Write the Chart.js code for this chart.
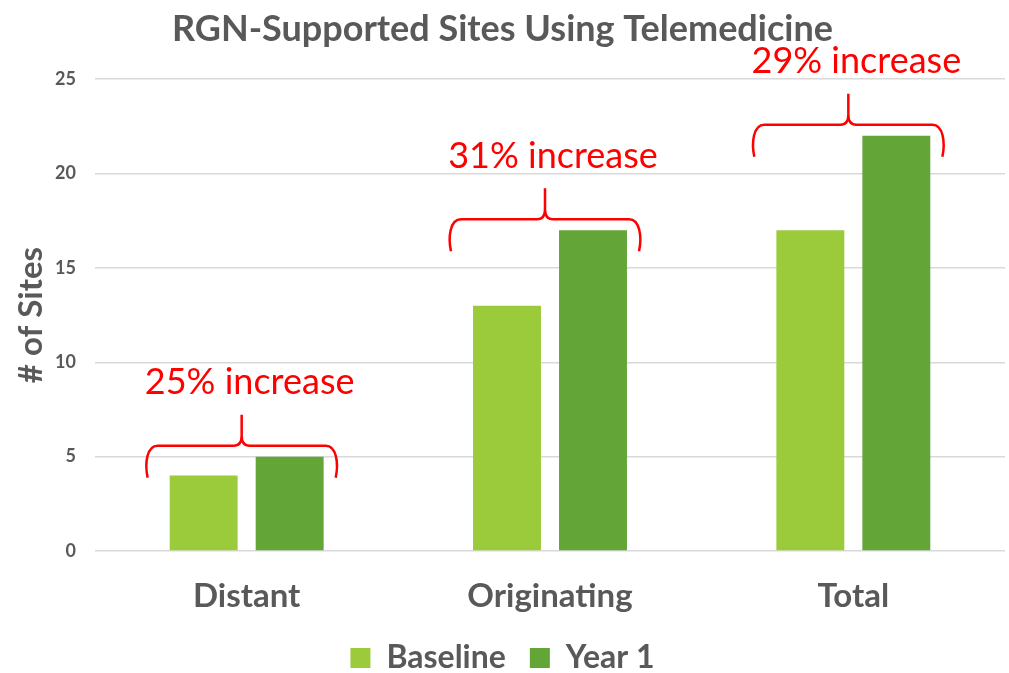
<!DOCTYPE html>
<html>
<head>
<meta charset="utf-8">
<script src="https://cdn.jsdelivr.net/npm/chart.js@4.4.1/dist/chart.umd.min.js"></script>
<style>
  html, body { margin: 0; padding: 0; background: #fff; }
  #wrap { width: 1009px; height: 673px; }
</style>
</head>
<body>
<div id="wrap"><canvas id="sitesCanvas"></canvas></div>
<script>
const categories = ["Distant", "Originating", "Total"];
const baseline = [4, 13, 17];
const year1 = [5, 17, 22];
const increaseLabels = ["25% increase", "31% increase", "29% increase"];

const gray = "#595959";
const fontFamily = "Lato, 'Open Sans', sans-serif";

// red curly braces with the % increase over each category
const bracePlugin = {
    id: "braces",
    afterDatasetsDraw(chart) {
        const ctx = chart.ctx;
        const x = chart.scales.x;
        const y = chart.scales.y;
        const catWidth = x.getPixelForValue(1) - x.getPixelForValue(0);
        ctx.save();
        ctx.strokeStyle = "#FF0000";
        ctx.lineWidth = 2.5;
        categories.forEach(function (c, i) {
            const xc = x.getPixelForValue(i) - 5;
            const top = y.getPixelForValue(Math.max(baseline[i], year1[i]));
            const xl = xc - catWidth * 0.31;
            const xr = xc + catWidth * 0.31;
            const yh = top - 11;
            const yTip = yh + 32;
            const yApex = yh - 31;
            ctx.beginPath();
            ctx.moveTo(xl, yTip);
            ctx.bezierCurveTo(xl - 3, yh + 18, xl - 1, yh, xl + 10, yh);
            ctx.lineTo(xc - 8, yh);
            ctx.quadraticCurveTo(xc, yh, xc, yh - 10);
            ctx.lineTo(xc, yApex);
            ctx.moveTo(xc, yh - 10);
            ctx.quadraticCurveTo(xc, yh, xc + 8, yh);
            ctx.lineTo(xr - 10, yh);
            ctx.bezierCurveTo(xr + 1, yh, xr + 3, yh + 18, xr, yTip);
            ctx.stroke();

            ctx.fillStyle = "#FF0000";
            ctx.font = "36px " + fontFamily;
            ctx.textAlign = "center";
            ctx.textBaseline = "middle";
            ctx.fillText(increaseLabels[i], xc + 8, yApex - 32);
        });
        ctx.restore();
    }
};

const ctx = document.getElementById("sitesCanvas");

var sitesChart = new Chart(ctx, {
    type: 'bar',
    data: {
        labels: categories,
        datasets: [
            {
                label: "Baseline",
                data: baseline,
                backgroundColor: "#9BCB3B"
            },
            {
                label: "Year 1",
                data: year1,
                backgroundColor: "#63A537"
            }
        ]
    },
    options: {
        responsive: true,
        maintainAspectRatio: false,
        animation: false,
        categoryPercentage: 0.567,
        barPercentage: 0.79,
        layout: {
            padding: { left: 0, right: 4, top: 0, bottom: -11 }
        },
        plugins: {
            title: {
                display: true,
                text: "RGN-Supported Sites Using Telemedicine",
                color: gray,
                font: { family: fontFamily, size: 36, weight: 'bold' },
                padding: { top: 8, bottom: 28 }
            },
            legend: {
                position: 'bottom',
                labels: {
                    color: gray,
                    font: { family: fontFamily, size: 32, weight: 'bold' },
                    boxWidth: 20,
                    boxHeight: 20,
                    padding: 24
                }
            },
            tooltip: { enabled: false }
        },
        scales: {
            x: {
                grid: { display: false, drawTicks: false },
                border: { display: false },
                ticks: {
                    color: gray,
                    font: { family: fontFamily, size: 33, weight: 'bold' },
                    padding: 26
                },
                afterFit: function (scale) { scale.height = 67; }
            },
            y: {
                min: 0,
                max: 25,
                ticks: {
                    stepSize: 5,
                    color: gray,
                    font: { family: fontFamily, size: 18, weight: 'bold' },
                    padding: 19
                },
                grid: { color: "#D9D9D9", lineWidth: 1.5, drawTicks: false },
                border: { display: false },
                title: {
                    display: true,
                    text: "# of Sites",
                    color: gray,
                    font: { family: fontFamily, size: 33, weight: 'bold' },
                    padding: { top: 12, bottom: 5 }
                },
                afterFit: function (scale) { scale.width = 95; }
            }
        }
    },
    plugins: [bracePlugin]
});
</script>
</body>
</html>
